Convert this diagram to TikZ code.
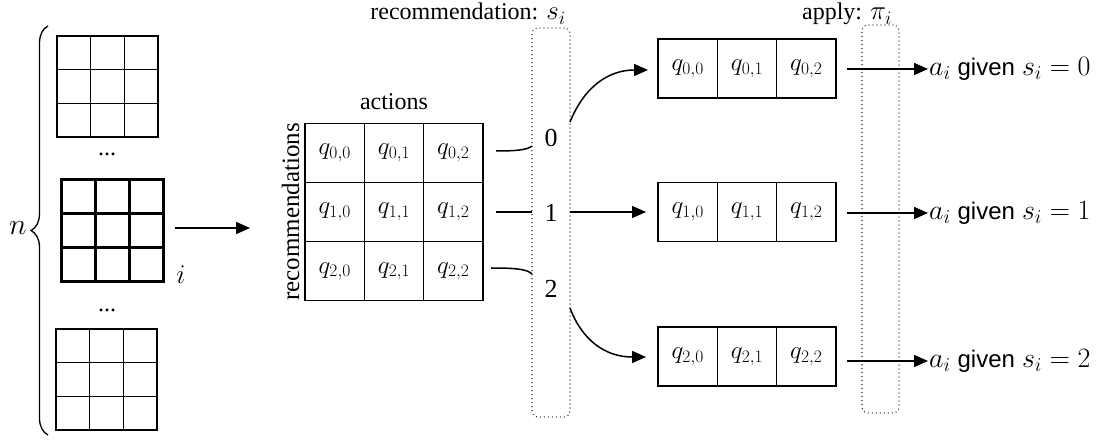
\RequirePackage{fix-cm}
\documentclass[tikz,border=0pt]{standalone}
\usepackage{fontspec}
\setmainfont{Liberation Serif}
\newfontfamily\helv{Liberation Sans}
\usetikzlibrary{arrows.meta,decorations.pathreplacing}
\begin{document}
\begin{tikzpicture}[x=1pt,y=-1pt,
  every node/.style={font=\fontsize{24}{28}\selectfont},
  gline/.style={line width=1.3pt, line cap=rect},
  gbold/.style={line width=3pt, line cap=rect},
  cell/.style={draw, line width=1.3pt, minimum width=59.3pt, minimum height=59pt, inner sep=0pt, font=\fontsize{25}{30}\selectfont},
  conn/.style={line width=1.5pt},
  arr/.style={conn, -{Triangle[length=14pt,width=12pt]}},
  dotbox/.style={draw, line width=1.3pt, dash pattern=on 0pt off 4pt, line cap=round, rounded corners=6pt, inner sep=0pt},
  digit/.style={font=\fontsize{26}{30}\selectfont, inner sep=0pt},
  result/.style={anchor=west, inner sep=1pt, font=\fontsize{28}{32}\selectfont},
]
\useasboundingbox (0,0) rectangle (1105,443);

% left stack of grids
\foreach \k in {0,1,2,3} {
  \draw[gline] ({57+\k*101/3},36) -- ({57+\k*101/3},137);
  \draw[gline] (57,{36+\k*101/3}) -- (158,{36+\k*101/3});
  \draw[gbold] ({61+\k*102/3},180) -- ({61+\k*102/3},282);
  \draw[gbold] (61,{180+\k*102/3}) -- (163,{180+\k*102/3});
  \draw[gline] ({56+\k*101/3},329) -- ({56+\k*101/3},430);
  \draw[gline] (56,{329+\k*101/3}) -- (157,{329+\k*101/3});
}
\node[anchor=base] (dots1) at (107,156) {...};
\node[anchor=base] (dots2) at (107,312) {...};
\node[font=\fontsize{27}{30}\selectfont] (ilab) at (181,275) {$i$};
\draw[line width=1.3pt, decorate, decoration={brace, amplitude=17pt}] (48,435) -- (48,26);
\node[font=\fontsize{30}{34}\selectfont] (nlab) at (18,228) {$n$};
\coordinate (g1) at (175,228);
\coordinate (g2) at (250,228);
\draw[arr] (g1) -- (g2);

% Q matrix
\node[anchor=base] (actions) at (394,110) {actions};
\node[rotate=90, anchor=base, font=\fontsize{25}{28}\selectfont] (recs) at (299,212) {recommendations};
\foreach \r in {0,1,2} {
  \foreach \c in {0,1,2} {
    \node[cell] (m\r\c) at ({334.7+\c*59.3},{152.7+\r*59.3}) {$q_{\r,\c}$};
  }
}

% recommendation box
\node[anchor=base] (rtitle) at (468,20) {recommendation: {\fontsize{27}{30}\selectfont$s_i$}};
\node[dotbox, minimum width=38pt, minimum height=389pt] (sbox) at (551,222.5) {};
\node[digit] (d0) at (551,138) {0};
\node[digit] (d1) at (551,213) {1};
\node[digit] (d2) at (551,289) {2};

\coordinate (l0s) at (496,151);
\coordinate (l0e) at (532,146);
\coordinate (l1s) at (496,212);
\coordinate (l1e) at (532,212);
\coordinate (l2s) at (491,268);
\coordinate (l2e) at (532,274);
\draw[conn] (l0s) .. controls (516,151) and (527,150) .. (l0e);
\draw[conn] (l1s) -- (l1e);
\draw[conn] (l2s) .. controls (515,268) and (527,269) .. (l2e);

% right rows
\foreach \r/\y in {0/68.5,1/212,2/356.5} {
  \foreach \c in {0,1,2} {
    \node[cell] (r\r\c) at ({687.7+\c*59.3},\y) {$q_{\r,\c}$};
  }
}
\coordinate (o0) at (570,122);
\coordinate (o1) at (570,212);
\coordinate (o2) at (570,308);
\draw[arr] (o0) .. controls (585,85) and (610,70) .. (648,70);
\draw[arr] (o1) -- (646,212);
\draw[arr] (o2) .. controls (582,340) and (605,357) .. (646,357);

% apply box
\node[anchor=base] (atitle) at (847,20) {apply: {\fontsize{27}{30}\selectfont$\pi_i$}};
\node[dotbox, minimum width=37pt, minimum height=388pt] (pbox) at (880.5,219) {};

\node[result] (a0) at (928,69) {$a_i$ {\helv\fontsize{24}{28}\selectfont given} $s_i = 0$};
\node[result] (a1) at (928,213) {$a_i$ {\helv\fontsize{24}{28}\selectfont given} $s_i = 1$};
\node[result] (a2) at (928,361) {$a_i$ {\helv\fontsize{24}{28}\selectfont given} $s_i = 2$};
\coordinate (p0) at (847,69);
\coordinate (p1) at (847,213);
\coordinate (p2) at (847,361);
\draw[arr] (p0) -- (a0.west);
\draw[arr] (p1) -- (a1.west);
\draw[arr] (p2) -- (a2.west);
\end{tikzpicture}
\end{document}
